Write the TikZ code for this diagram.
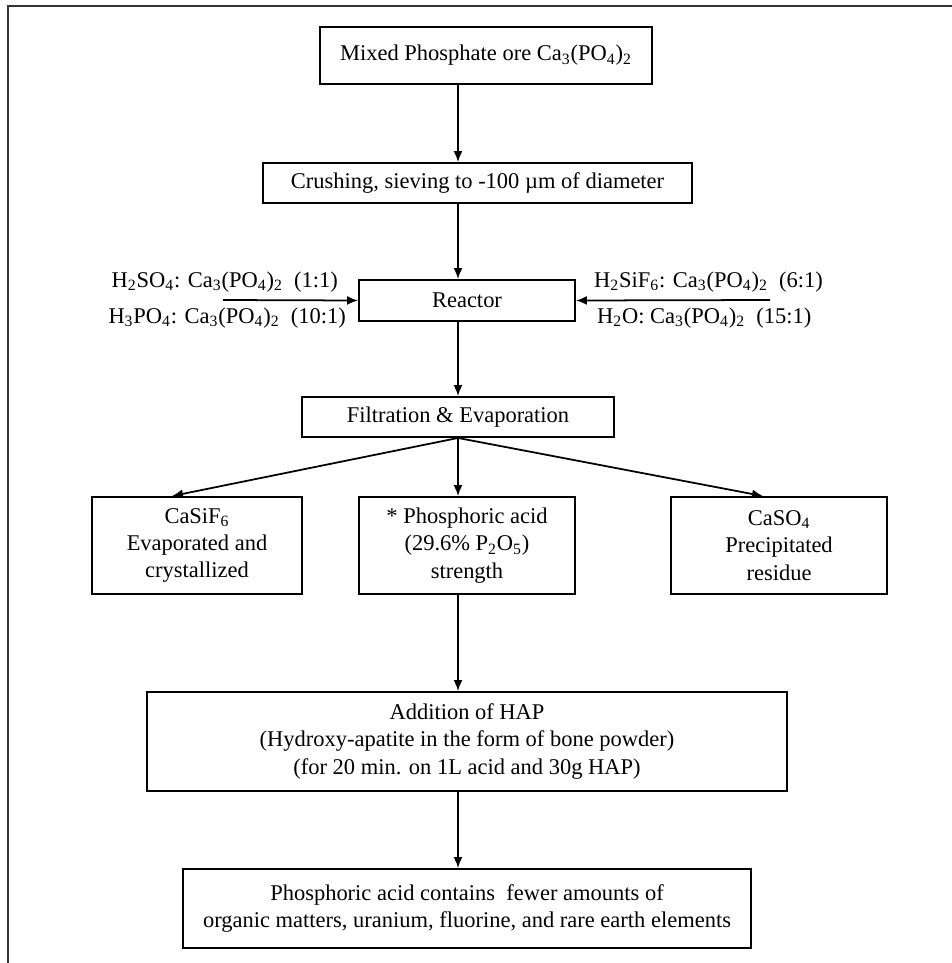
\documentclass[tikz,border=0pt]{standalone}
\usepackage{fontspec}
\setmainfont{Liberation Serif}
\usetikzlibrary{arrows.meta}

\tikzset{
  stage/.style={draw, line width=1.1pt, align=center, inner sep=2pt},
  flow/.style={-{Latex[length=2.2mm,width=1.8mm]}, line width=1pt},
  feed/.style={inner sep=1pt},
}

\begin{document}
\begin{tikzpicture}[x=0.02cm,y=-0.02cm,font=\fontsize{12.8}{15.5}\selectfont]

  \useasboundingbox (0,0) rectangle (952,963);

  % frame
  \draw[line width=1.4pt, black!80] (8,963) -- (8,6) -- (952,6);

  % main column
  \node[stage, minimum width=6.64cm, minimum height=1.14cm] (ore) at (486,55.5)
    {Mixed Phosphate ore Ca\textsubscript{3}(PO\textsubscript{4})\textsubscript{2}};
  \node[stage, minimum width=8.58cm, minimum height=0.8cm] (crush) at (477.5,183)
    {Crushing, sieving to -100 µm of diameter};
  \node[stage, minimum width=4.32cm, minimum height=0.82cm] (reactor) at (467,300.5) {Reactor};
  \node[stage, minimum width=6.24cm, minimum height=0.8cm] (filt) at (458,417)
    {Filtration \& Evaporation};

  \coordinate (spine) at (458,0);

  % feeds to the reactor
  \node[feed, anchor=east] (h2so4) at (340,282)
    {H\textsubscript{2}SO\textsubscript{4}: Ca\textsubscript{3}(PO\textsubscript{4})\textsubscript{2}~ (1:1)};
  \node[feed, anchor=east] (h3po4) at (348,318)
    {H\textsubscript{3}PO\textsubscript{4}: Ca\textsubscript{3}(PO\textsubscript{4})\textsubscript{2}~ (10:1)};
  \node[feed, anchor=west] (h2sif6) at (592,282)
    {H\textsubscript{2}SiF\textsubscript{6}: Ca\textsubscript{3}(PO\textsubscript{4})\textsubscript{2}~ (6:1)};
  \node[feed, anchor=west] (h2o) at (595,318)
    {H\textsubscript{2}O: Ca\textsubscript{3}(PO\textsubscript{4})\textsubscript{2}~ (15:1)};
  \coordinate (inleft) at (223,300);
  \coordinate (inright) at (770,300);

  % products
  \node[stage, minimum width=4.2cm, minimum height=1.94cm] (casif) at (197,545.5)
    {CaSiF\textsubscript{6}\\ Evaporated and\\ crystallized};
  \node[stage, minimum width=4.32cm, minimum height=1.94cm] (acid) at (467,545.5)
    {* Phosphoric acid\\ (29.6\% P\textsubscript{2}O\textsubscript{5})\\ strength};
  \node[stage, minimum width=4.32cm, minimum height=1.94cm] (caso) at (779,545.5)
    {CaSO\textsubscript{4}\\ Precipitated\\ residue};

  \node[stage, minimum width=12.8cm, minimum height=1.98cm] (hap) at (467,741.5)
    {Addition of HAP\\ (Hydroxy-apatite in the form of bone powder)\\ (for 20 min. on 1L acid and 30g HAP)};
  \node[stage, minimum width=11.36cm, minimum height=1.58cm] (final) at (467,908.5)
    {Phosphoric acid contains~ fewer amounts of\\ organic matters, uranium, fluorine, and rare earth elements};

  % arrows
  \draw[flow] (ore.south -| spine) -- (crush.north -| spine);
  \draw[flow] (crush.south -| spine) -- (reactor.north -| spine);
  \draw[flow] (inleft) -- (reactor.west);
  \draw[flow] (inright) -- (reactor.east);
  \draw[flow] (reactor.south -| spine) -- (filt.north -| spine);
  \draw[flow] (filt.south -| spine) -- (acid.north -| spine);
  \draw[flow] (filt.south -| spine) -- ([xshift=-0.5cm]casif.north);
  \draw[flow] (filt.south -| spine) -- ([xshift=-0.32cm]caso.north);
  \draw[flow] (acid.south -| spine) -- (hap.north -| spine);
  \draw[flow] (hap.south -| spine) -- (final.north -| spine);

\end{tikzpicture}
\end{document}
